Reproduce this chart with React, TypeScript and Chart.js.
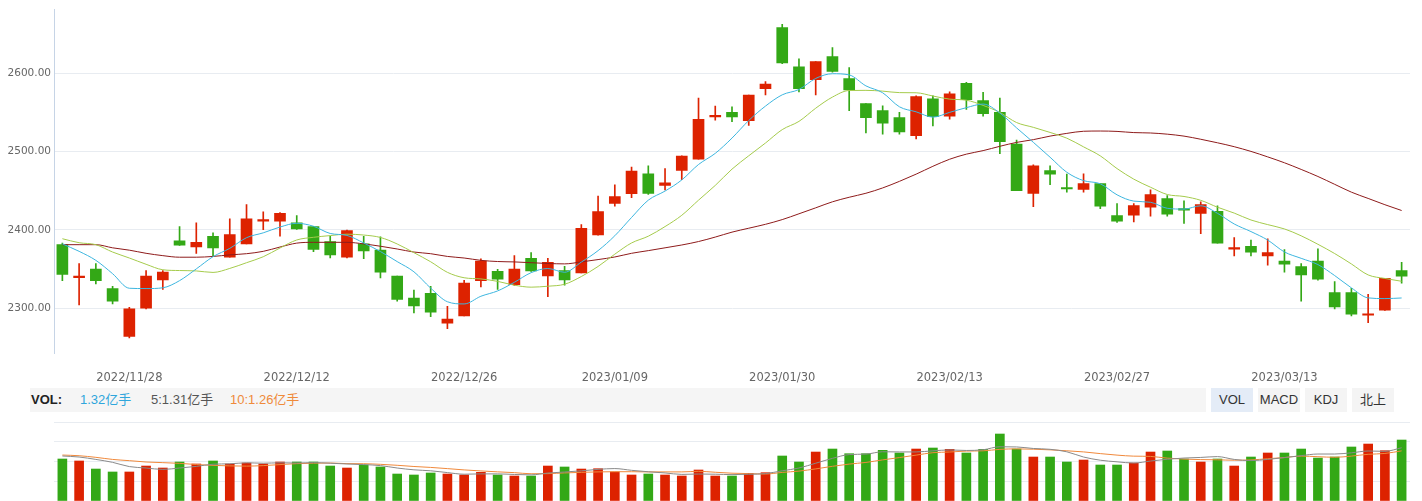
import React, { useEffect, useRef } from 'react';
import { Chart, registerables } from 'chart.js';

Chart.register(...registerables);

const dates = [
  '2022/11/22', '2022/11/23', '2022/11/24', '2022/11/25', '2022/11/28', '2022/11/29', '2022/11/30',
  '2022/12/01', '2022/12/02', '2022/12/05', '2022/12/06', '2022/12/07', '2022/12/08', '2022/12/09',
  '2022/12/12', '2022/12/13', '2022/12/14', '2022/12/15', '2022/12/16', '2022/12/19', '2022/12/20',
  '2022/12/21', '2022/12/22', '2022/12/23', '2022/12/26', '2022/12/27', '2022/12/28', '2022/12/29',
  '2022/12/30', '2023/01/03', '2023/01/04', '2023/01/05', '2023/01/06', '2023/01/09', '2023/01/10',
  '2023/01/11', '2023/01/12', '2023/01/13', '2023/01/16', '2023/01/17', '2023/01/18', '2023/01/19',
  '2023/01/20', '2023/01/30', '2023/01/31', '2023/02/01', '2023/02/02', '2023/02/03', '2023/02/06',
  '2023/02/07', '2023/02/08', '2023/02/09', '2023/02/10', '2023/02/13', '2023/02/14', '2023/02/15',
  '2023/02/16', '2023/02/17', '2023/02/20', '2023/02/21', '2023/02/22', '2023/02/23', '2023/02/24',
  '2023/02/27', '2023/02/28', '2023/03/01', '2023/03/02', '2023/03/03', '2023/03/06', '2023/03/07',
  '2023/03/08', '2023/03/09', '2023/03/10', '2023/03/13', '2023/03/14', '2023/03/15', '2023/03/16',
  '2023/03/17', '2023/03/20', '2023/03/21', '2023/03/22',
];

const shownDates = ['2022/11/28', '2022/12/12', '2022/12/26', '2023/01/09', '2023/01/30', '2023/02/13', '2023/02/27', '2023/03/13'];

const opens = [
  2381, 2339, 2350, 2325, 2264, 2300, 2336, 2386, 2378, 2391.5,
  2365, 2382, 2411, 2411, 2409, 2404, 2385, 2365, 2382, 2374,
  2341, 2313, 2319, 2281, 2290, 2335, 2347, 2330, 2363.6, 2341,
  2348, 2345, 2393.3, 2433.7, 2446, 2471.5, 2456.7, 2475.7, 2490, 2544,
  2550, 2539.3, 2580, 2658, 2608, 2591.5, 2621, 2593, 2561, 2552,
  2543, 2520, 2567, 2545, 2587, 2565, 2550, 2509.5, 2446.5, 2475.5,
  2453.3, 2451.6, 2458.8, 2418, 2418.6, 2428.7, 2439.8, 2427, 2421, 2423.7,
  2375.4, 2379, 2366.5, 2360, 2353, 2360, 2320, 2320, 2291, 2297.5,
  2348,
];
const highs = [
  2383, 2357, 2357, 2328, 2301, 2348, 2348, 2404, 2409, 2396,
  2414, 2432, 2423, 2422, 2418, 2404, 2391.5, 2399.5, 2391.5, 2391,
  2341, 2323, 2328, 2302.5, 2335.6, 2363, 2349.6, 2367, 2371, 2363.6,
  2353.5, 2406.8, 2443, 2457.5, 2480, 2481.6, 2478, 2494.5, 2568, 2557.7,
  2557, 2572, 2589, 2662, 2618, 2614.5, 2632.5, 2607, 2561, 2558,
  2550, 2571, 2571, 2576, 2588, 2575.5, 2568, 2514.6, 2483, 2481.5,
  2471, 2471.5, 2459, 2433.4, 2433.4, 2451, 2443.6, 2437, 2435.6, 2430.5,
  2390, 2387, 2388.6, 2374.6, 2356.8, 2375.8, 2334, 2325.4, 2317.8, 2338,
  2358.5,
];
const lows = [
  2335, 2304, 2331, 2305.5, 2262, 2299, 2324, 2380, 2370, 2366,
  2365, 2382, 2400, 2392, 2400.5, 2372, 2364, 2364, 2363, 2338.5,
  2309, 2294, 2289, 2274, 2290, 2327, 2324, 2329, 2347, 2314.6,
  2329.4, 2345, 2393, 2430, 2441, 2445, 2451, 2464, 2490, 2540,
  2538, 2533, 2572, 2612, 2576, 2572, 2601, 2552, 2523.5, 2522,
  2522, 2516, 2532.5, 2541, 2553.5, 2545, 2497, 2450, 2429.6, 2457.5,
  2448, 2448, 2427, 2409.3, 2410, 2417.4, 2417.4, 2408, 2395, 2383,
  2366.5, 2366.5, 2355, 2346, 2309, 2335.6, 2299, 2290, 2281.4, 2297,
  2332,
];
const closes = [
  2343, 2341, 2335, 2309, 2299, 2341, 2346, 2380.5, 2384, 2377,
  2394, 2414, 2411.4, 2421, 2401, 2375, 2368, 2399, 2373, 2346,
  2311, 2303, 2295, 2286, 2332, 2360, 2337, 2350, 2347.6, 2358.6,
  2336, 2401.7, 2423.3, 2442.3, 2475, 2446.5, 2460, 2494, 2541, 2546,
  2544, 2572, 2586, 2613, 2580, 2614.5, 2602, 2578.6, 2543, 2536,
  2525, 2570, 2544.4, 2573.5, 2566, 2548, 2512.5, 2450, 2481.6, 2471,
  2452, 2458.8, 2430, 2411, 2431, 2444.8, 2420, 2425, 2432, 2383,
  2377, 2371.6, 2371, 2356, 2342.4, 2337, 2301.7, 2292.4, 2292, 2338,
  2340.7,
];

const ma5 = [
  2382, 2372.5, 2361, 2344, 2325.4, 2325.0, 2326.0, 2335.1, 2350.1, 2365.7,
  2376.3, 2389.9, 2396.1, 2403.5, 2408.3, 2404.5, 2395.3, 2392.8, 2383.2, 2372.2,
  2359.4, 2346.4, 2325.6, 2308.2, 2305.4, 2315.2, 2322.0, 2333.0, 2345.3, 2350.6,
  2345.8, 2358.8, 2373.4, 2392.4, 2415.7, 2437.8, 2449.4, 2463.6, 2483.3, 2497.5,
  2517.0, 2539.4, 2557.8, 2572.2, 2579.0, 2593.1, 2599.1, 2597.6, 2583.6, 2574.8,
  2556.9, 2550.5, 2543.7, 2549.8, 2555.8, 2560.4, 2548.9, 2530.0, 2511.6, 2492.6,
  2473.4, 2462.7, 2458.7, 2444.6, 2436.6, 2435.1, 2427.4, 2426.4, 2430.6, 2421.0,
  2407.4, 2397.7, 2386.9, 2371.7, 2363.6, 2355.6, 2341.6, 2325.9, 2313.1, 2312.2,
  2313.0,
];
const ma10 = [
  2388.6, 2383.5, 2381, 2371.6, 2364, 2356, 2349, 2348, 2347.5, 2345.6,
  2350.7, 2358.0, 2365.6, 2376.8, 2387.0, 2390.4, 2392.6, 2394.4, 2393.3, 2390.2,
  2381.9, 2370.8, 2359.2, 2345.7, 2338.8, 2337.3, 2334.2, 2329.3, 2326.8, 2328.0,
  2330.5, 2340.4, 2353.2, 2368.9, 2383.2, 2391.8, 2404.1, 2418.5, 2437.8, 2456.6,
  2477.4, 2494.4, 2510.7, 2527.8, 2538.3, 2555.1, 2569.3, 2577.7, 2577.9, 2576.9,
  2575.0, 2574.8, 2570.7, 2566.7, 2565.3, 2558.7, 2549.7, 2536.8, 2530.7, 2524.2,
  2516.9, 2505.8, 2494.3, 2478.1, 2464.6, 2454.3, 2445.0, 2442.5, 2437.6, 2428.8,
  2421.3, 2412.5, 2406.6, 2401.1, 2392.3, 2381.5, 2369.7, 2356.4, 2342.4, 2337.9,
  2334.3,
];
const ma60 = [
  2381, 2381, 2381, 2377, 2374, 2370, 2367, 2365, 2365, 2366,
  2368, 2369.5, 2372.5, 2378, 2383, 2384, 2384, 2384, 2382, 2379,
  2375.5, 2371.6, 2369.5, 2366, 2364, 2361, 2359.5, 2359, 2358, 2357,
  2356.5, 2359, 2362, 2365.3, 2370, 2373.4, 2377, 2380.6, 2385, 2390.7,
  2397, 2402, 2407, 2413, 2420.4, 2428, 2435.7, 2441.5, 2446.6, 2453.4,
  2461.8, 2471, 2481, 2490, 2496.5, 2501, 2506.5, 2511.5, 2515, 2519.5,
  2523, 2525.7, 2526, 2525.5, 2524, 2523.5, 2522, 2519.5, 2515.5, 2511,
  2506, 2500, 2493, 2485.5, 2477, 2468, 2458, 2448, 2440, 2432,
  2424.6,
];

// volume in 亿手
const volumes = [
  0.909, 0.866, 0.692, 0.628, 0.628, 0.757, 0.714, 0.844, 0.801, 0.866,
  0.801, 0.822, 0.801, 0.844, 0.844, 0.844, 0.757, 0.714, 0.779, 0.736,
  0.584, 0.563, 0.606, 0.584, 0.563, 0.621, 0.563, 0.541, 0.541, 0.757,
  0.736, 0.692, 0.699, 0.628, 0.563, 0.584, 0.563, 0.541, 0.671, 0.541,
  0.541, 0.599, 0.613, 0.974, 0.844, 1.060, 1.125, 1.024, 1.024, 1.097,
  1.039, 1.125, 1.147, 1.118, 1.039, 1.118, 1.450, 1.125, 0.952, 0.952,
  0.844, 0.887, 0.779, 0.779, 0.822, 1.060, 1.082, 0.909, 0.844, 0.909,
  0.757, 0.952, 1.039, 1.039, 1.125, 0.930, 0.952, 1.169, 1.233, 1.089,
  1.320,
];
const volMa5 = [
  0.974, 0.952, 0.900, 0.837, 0.745, 0.714, 0.684, 0.714, 0.749, 0.796,
  0.805, 0.827, 0.818, 0.827, 0.822, 0.831, 0.818, 0.801, 0.788, 0.766,
  0.714, 0.675, 0.654, 0.615, 0.580, 0.587, 0.587, 0.574, 0.566, 0.605,
  0.628, 0.653, 0.685, 0.702, 0.664, 0.633, 0.607, 0.576, 0.584, 0.580,
  0.571, 0.579, 0.593, 0.654, 0.714, 0.818, 0.923, 1.005, 1.015, 1.066,
  1.062, 1.062, 1.086, 1.105, 1.094, 1.109, 1.174, 1.170, 1.137, 1.119,
  1.065, 0.952, 0.883, 0.848, 0.822, 0.865, 0.904, 0.930, 0.943, 0.961,
  0.900, 0.874, 0.900, 0.939, 0.982, 1.017, 1.017, 1.043, 1.082, 1.075,
  1.153,
];
const volMa10 = [
  0.995, 0.980, 0.945, 0.900, 0.873, 0.844, 0.830, 0.815, 0.790, 0.771,
  0.760, 0.755, 0.766, 0.788, 0.809, 0.818, 0.822, 0.809, 0.807, 0.794,
  0.773, 0.747, 0.727, 0.701, 0.673, 0.651, 0.631, 0.614, 0.590, 0.592,
  0.608, 0.620, 0.630, 0.634, 0.634, 0.630, 0.630, 0.630, 0.643, 0.622,
  0.602, 0.593, 0.584, 0.619, 0.647, 0.695, 0.751, 0.799, 0.835, 0.890,
  0.940, 0.993, 1.046, 1.060, 1.080, 1.086, 1.118, 1.128, 1.121, 1.107,
  1.087, 1.063, 1.026, 0.993, 0.971, 0.965, 0.928, 0.907, 0.896, 0.892,
  0.883, 0.889, 0.915, 0.941, 0.972, 0.959, 0.946, 0.972, 1.011, 1.029,
  1.085,
];

const priceTicks = [2300, 2400, 2500, 2600];
const priceMin = 2242.8;
const priceMax = 2681.3;
const volTicks = [0, 0.4275, 0.855, 1.2825, 1.71];
const volMin = 0;
const volMax = 1.71;

const RED = '#dd2200';
const GREEN = '#33a816';
const GRID = '#e8ecf1';

export default function App() {
  const mainRef = useRef<HTMLCanvasElement | null>(null);
  const volRef = useRef<HTMLCanvasElement | null>(null);

  useEffect(() => {
    const colors = closes.map((c, i) => (c >= opens[i] ? RED : GREEN));

    const main = new Chart(mainRef.current as HTMLCanvasElement, {
      type: 'bar',
      data: {
        labels: dates,
        datasets: [
          {
            type: 'line',
            data: ma5,
            borderColor: '#3db6df',
            borderWidth: 1,
            pointRadius: 0,
            cubicInterpolationMode: 'monotone',
            order: 0,
          } as any,
          {
            type: 'line',
            data: ma10,
            borderColor: '#a5cb4c',
            borderWidth: 1,
            pointRadius: 0,
            cubicInterpolationMode: 'monotone',
            order: 0,
          } as any,
          {
            type: 'line',
            data: ma60,
            borderColor: '#8e1b1b',
            borderWidth: 1,
            pointRadius: 0,
            cubicInterpolationMode: 'monotone',
            order: 0,
          } as any,
          {
            type: 'bar',
            data: opens.map((o, i) => [o, closes[i]]),
            backgroundColor: colors,
            barThickness: 11,
            minBarLength: 1.5,
            grouped: false,
            order: 1,
          } as any,
          {
            type: 'bar',
            data: lows.map((l, i) => [l, highs[i]]),
            backgroundColor: colors,
            barThickness: 1,
            grouped: false,
            order: 2,
          } as any,
        ],
      },
      options: {
        responsive: false,
        animation: false,
        events: [],
        layout: { padding: { top: 8, right: 12, left: 0, bottom: 0 } },
        plugins: { legend: { display: false }, tooltip: { enabled: false } },
        scales: {
          x: {
            type: 'category',
            offset: true,
            grid: { display: false, drawTicks: false },
            border: { display: false },
            ticks: {
              autoSkip: false,
              maxRotation: 0,
              minRotation: 0,
              padding: 18,
              color: '#666',
              font: { family: 'DejaVu Sans', size: 11.5 },
              callback: (_v: any, index: number) => (shownDates.includes(dates[index]) ? dates[index] : ''),
            },
            afterFit: (s: any) => {
              s.height = 35;
            },
          },
          y: {
            min: priceMin,
            max: priceMax,
            grid: { color: GRID, drawTicks: false },
            border: { display: true, color: '#c6d4e6', width: 1 },
            ticks: {
              padding: 3,
              color: '#666',
              font: { family: 'DejaVu Sans', size: 10.5 },
              callback: (v: any) => Number(v).toFixed(2),
            },
            afterBuildTicks: (s: any) => {
              s.ticks = priceTicks.map((v) => ({ value: v }));
            },
            afterFit: (s: any) => {
              s.width = 54;
            },
          },
        },
      } as any,
    });

    const vol = new Chart(volRef.current as HTMLCanvasElement, {
      type: 'bar',
      data: {
        labels: dates,
        datasets: [
          {
            type: 'line',
            data: volMa5,
            borderColor: '#8a8a8a',
            borderWidth: 1,
            pointRadius: 0,
            cubicInterpolationMode: 'monotone',
            order: 0,
          } as any,
          {
            type: 'line',
            data: volMa10,
            borderColor: '#f0893c',
            borderWidth: 1,
            pointRadius: 0,
            cubicInterpolationMode: 'monotone',
            order: 0,
          } as any,
          {
            type: 'bar',
            data: volumes,
            backgroundColor: colors,
            barThickness: 9,
            grouped: false,
            order: 1,
          } as any,
        ],
      },
      options: {
        responsive: false,
        animation: false,
        events: [],
        layout: { padding: { top: 10, right: 12, left: 54, bottom: 0 } },
        plugins: { legend: { display: false }, tooltip: { enabled: false } },
        scales: {
          x: {
            type: 'category',
            offset: true,
            display: false,
          },
          y: {
            min: volMin,
            max: volMax,
            grid: { color: GRID, drawTicks: false },
            border: { display: false },
            ticks: { display: false },
            afterBuildTicks: (s: any) => {
              s.ticks = volTicks.map((v) => ({ value: v }));
            },
            afterFit: (s: any) => {
              s.width = 0;
            },
          },
        },
      } as any,
    });

    return () => {
      main.destroy();
      vol.destroy();
    };
  }, []);

  const font = '"Liberation Sans", "Noto Sans CJK SC", sans-serif';
  const legendText: React.CSSProperties = {
    position: 'absolute',
    top: 388,
    height: 24,
    lineHeight: '24px',
    fontSize: 13,
    fontFamily: font,
    whiteSpace: 'nowrap',
  };
  const btn = (left: number, bg: string): React.CSSProperties => ({
    position: 'absolute',
    left,
    top: 388,
    width: 42,
    height: 24,
    lineHeight: '24px',
    textAlign: 'center',
    background: bg,
    color: '#333',
    fontSize: 13,
    fontFamily: font,
  });

  return (
    <div
      style={{
        position: 'fixed',
        left: 0,
        top: 0,
        width: 1422,
        height: 501,
        overflow: 'hidden',
        background: '#fff',
      }}
    >
      <canvas ref={mainRef} width={1422} height={388} style={{ position: 'absolute', left: 0, top: 0 }} />
      <div style={{ position: 'absolute', left: 30, top: 388, width: 1176, height: 24, background: '#f5f5f5' }} />
      <span style={{ ...legendText, left: 31, fontWeight: 'bold', color: '#222' }}>VOL:</span>
      <span style={{ ...legendText, left: 80, color: '#2fa6dc' }}>1.32亿手</span>
      <span style={{ ...legendText, left: 151, color: '#555' }}>5:1.31亿手</span>
      <span style={{ ...legendText, left: 230, color: '#ef8a3a' }}>10:1.26亿手</span>
      <div style={btn(1211, '#e4ecf7')}>VOL</div>
      <div style={btn(1258, '#f4f4f4')}>MACD</div>
      <div style={btn(1305, '#f4f4f4')}>KDJ</div>
      <div style={btn(1352, '#f4f4f4')}>北上</div>
      <canvas ref={volRef} width={1422} height={89} style={{ position: 'absolute', left: 0, top: 412 }} />
    </div>
  );
}
